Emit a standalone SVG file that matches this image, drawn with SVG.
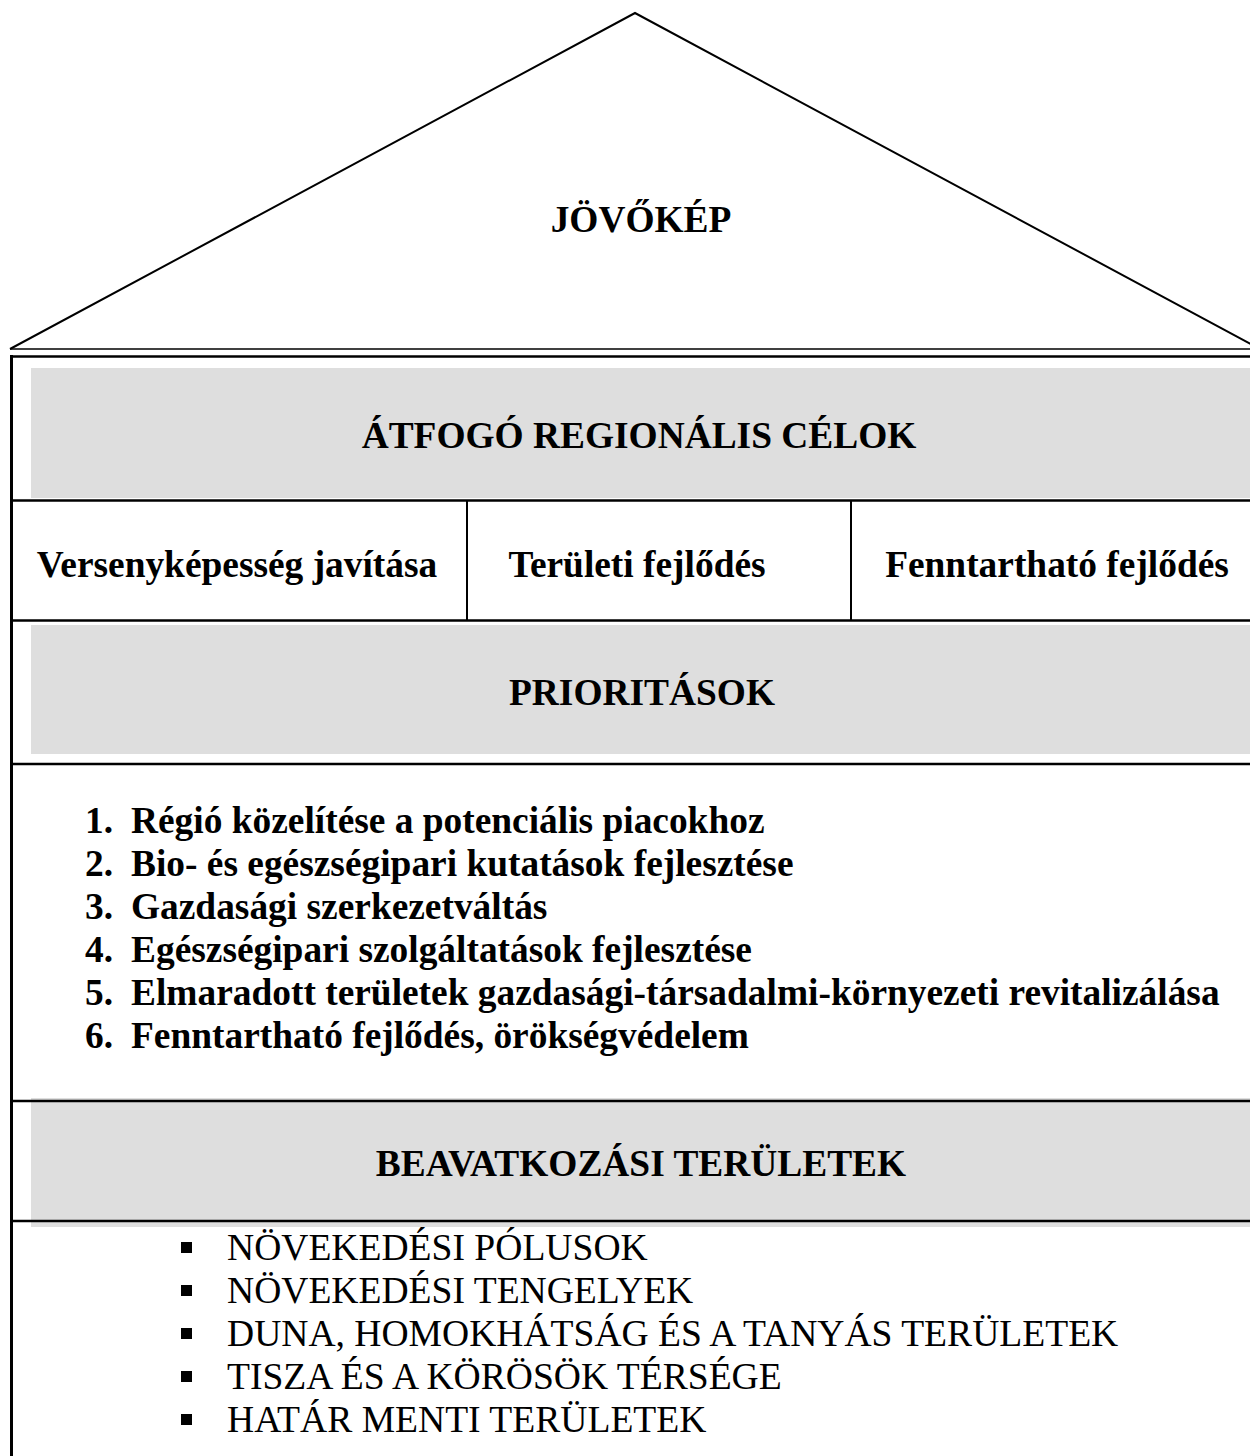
<svg xmlns="http://www.w3.org/2000/svg" width="1250" height="1456" viewBox="0 0 1250 1456">
<style>
.b{font-family:"Liberation Serif","Times New Roman",serif;font-weight:bold;font-size:37.4px;fill:#000}
.r{font-family:"Liberation Serif","Times New Roman",serif;font-size:37.6px;fill:#000}
.band{fill:#dedede}
.ln{stroke:#000;fill:none}
</style>
<rect width="1250" height="1456" fill="#fff"/>
<g id="roof">
<polyline class="ln" points="10,349 635,13 1260,349" stroke-width="2"/>
<text class="b" x="641" y="232" text-anchor="middle">JÖVŐKÉP</text>
</g>
<g id="bands">
<rect class="band" x="31" y="368" width="1219" height="130"/>
<rect class="band" x="31" y="625" width="1219" height="129"/>
<rect class="band" x="31" y="1098" width="1219" height="129"/>
</g>
<g id="connectors">
<line class="ln" x1="10" y1="349" x2="1250" y2="349" stroke-width="1.5"/>
<line class="ln" x1="10" y1="356.5" x2="1250" y2="356.5" stroke-width="2.5"/>
<line class="ln" x1="11.5" y1="355" x2="11.5" y2="1456" stroke-width="3"/>
<line class="ln" x1="10" y1="500.5" x2="1250" y2="500.5" stroke-width="2.5"/>
<line class="ln" x1="10" y1="620.5" x2="1250" y2="620.5" stroke-width="2.5"/>
<line class="ln" x1="10" y1="764" x2="1250" y2="764" stroke-width="2.5"/>
<line class="ln" x1="10" y1="1101" x2="1250" y2="1101" stroke-width="2.5"/>
<line class="ln" x1="10" y1="1221" x2="1250" y2="1221" stroke-width="2.5"/>
<line class="ln" x1="467" y1="500" x2="467" y2="620" stroke-width="2"/>
<line class="ln" x1="851" y1="500" x2="851" y2="620" stroke-width="2"/>
</g>
<g id="atfogo">
<text class="b" x="639" y="448" text-anchor="middle">ÁTFOGÓ REGIONÁLIS CÉLOK</text>
</g>
<g id="col1"><text class="b" x="237" y="577" text-anchor="middle">Versenyképesség javítása</text></g>
<g id="col2"><text class="b" x="637" y="577" text-anchor="middle">Területi fejlődés</text></g>
<g id="col3"><text class="b" x="1057" y="577" text-anchor="middle">Fenntartható fejlődés</text></g>
<g id="prioritasok">
<text class="b" x="642" y="705" text-anchor="middle">PRIORITÁSOK</text>
</g>
<g id="prio-list">
<text class="b" x="85" y="833">1.</text><text class="b" x="131" y="833">Régió közelítése a potenciális piacokhoz</text>
<text class="b" x="85" y="876">2.</text><text class="b" x="131" y="876">Bio- és egészségipari kutatások fejlesztése</text>
<text class="b" x="85" y="919">3.</text><text class="b" x="131" y="919">Gazdasági szerkezetváltás</text>
<text class="b" x="85" y="962">4.</text><text class="b" x="131" y="962">Egészségipari szolgáltatások fejlesztése</text>
<text class="b" x="85" y="1005">5.</text><text class="b" x="131" y="1005">Elmaradott területek gazdasági-társadalmi-környezeti revitalizálása</text>
<text class="b" x="85" y="1048">6.</text><text class="b" x="131" y="1048">Fenntartható fejlődés, örökségvédelem</text>
</g>
<g id="beavatkozasi">
<text class="b" x="641" y="1176" text-anchor="middle">BEAVATKOZÁSI TERÜLETEK</text>
</g>
<g id="areas">
<rect x="181" y="1242" width="11" height="11"/><text class="r" x="227" y="1260">NÖVEKEDÉSI PÓLUSOK</text>
<rect x="181" y="1285" width="11" height="11"/><text class="r" x="227" y="1303">NÖVEKEDÉSI TENGELYEK</text>
<rect x="181" y="1328" width="11" height="11"/><text class="r" x="227" y="1346">DUNA, HOMOKHÁTSÁG ÉS A TANYÁS TERÜLETEK</text>
<rect x="181" y="1371" width="11" height="11"/><text class="r" x="227" y="1389">TISZA ÉS A KÖRÖSÖK TÉRSÉGE</text>
<rect x="181" y="1414" width="11" height="11"/><text class="r" x="227" y="1432">HATÁR MENTI TERÜLETEK</text>
</g>
</svg>
